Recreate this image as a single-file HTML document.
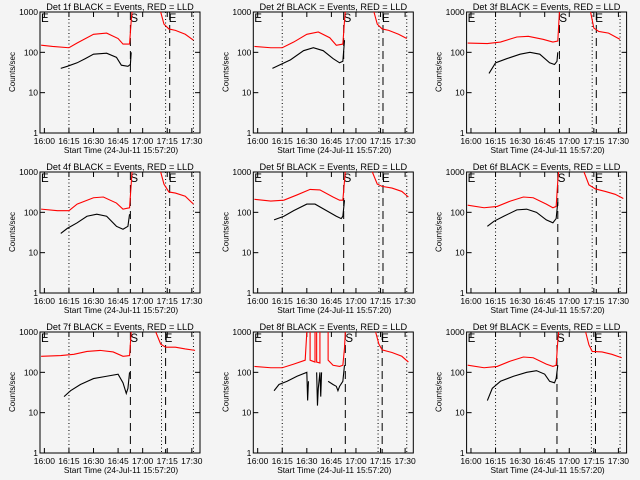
<!DOCTYPE html>
<html><head><meta charset="utf-8"><style>
body{margin:0;background:#f4f4f4}
svg{display:block;font-family:"Liberation Sans",sans-serif}
text{fill:#000}
</style></head><body>
<svg id="c" width="640" height="480" xmlns="http://www.w3.org/2000/svg">
<rect width="640" height="480" fill="#f4f4f4"/>
</svg>
<script>
const detNames=["1f","2f","3f","4f","5f","6f","7f","8f","9f"];
const xTickLabels=["16:00","16:15","16:30","16:45","17:00","17:15","17:30"];
const xTickMinutes=[0,15,30,45,60,75,90];
const yTickValues=[1,10,100,1000];
const yTickLabels=["1","10","100","1000"];
const redPre=[
[[-2,150],[5,140],[15,130],[20,170],[30,280],[38,300],[45,220],[48,160],[52,160],[53,600],[53.5,1000]],
[[-2,140],[8,130],[15,130],[22,180],[30,280],[37,320],[44,230],[48,150],[52,160],[53,600],[53.5,1000]],
[[-2,170],[10,165],[18,180],[28,240],[35,250],[44,210],[50,180],[53,190],[54,1000]],
[[-2,120],[8,110],[15,110],[20,160],[30,230],[36,240],[44,170],[48,120],[52,130],[53,500],[53.5,1000]],
[[-2,210],[8,190],[16,200],[24,270],[32,370],[38,360],[46,240],[50,200],[52,200],[53,600],[53.5,1000]],
[[-2,150],[8,130],[16,140],[24,190],[32,240],[38,230],[46,160],[50,130],[52,140],[53,600],[53.5,1000]],
[[-2,250],[10,260],[18,280],[26,330],[34,350],[42,320],[48,250],[52,260],[53,1000]],
[[-2,140],[8,130],[15,130],[22,160],[29,200],[30,1000]],
[[-2,150],[8,130],[16,140],[24,190],[32,240],[38,230],[46,160],[50,140],[52,150],[53,600],[53.5,1000]]];
const redPost=[
[[71,1000],[73,500],[76,380],[80,350],[86,280],[91,200]],
[[71,1000],[73,500],[76,380],[80,350],[86,280],[91,220]],
[[73,1000],[75,400],[78,330],[84,300],[91,210]],
[[71,1000],[73,500],[76,320],[80,300],[86,250],[91,160]],
[[70,1000],[73,500],[76,440],[82,400],[88,330],[92,240]],
[[69,1000],[72,480],[76,380],[82,330],[88,280],[93,220]],
[[68,1000],[71,500],[74,420],[80,420],[86,380],[92,350]],
[[72,1000],[74,500],[76,360],[82,310],[88,250],[92,180]],
[[70,1000],[72,480],[74,330],[80,320],[86,280],[92,230]]];
const blackPre=[
[[10,40],[14,45],[20,55],[25,70],[30,90],[38,95],[44,75],[47,48],[51,45],[52.5,50],[53,100]],
[[9,40],[14,50],[20,65],[28,110],[34,130],[40,110],[46,70],[50,55],[52,60],[53,200]],
[[11,30],[15,55],[22,70],[30,90],[36,100],[42,90],[48,55],[51,50],[52.5,60],[53,100]],
[[10,30],[14,40],[20,55],[26,80],[32,90],[38,80],[44,45],[48,38],[51,45],[52,90]],
[[10,65],[16,80],[22,110],[30,160],[35,160],[42,110],[48,80],[51,70],[52,80],[53,200]],
[[10,45],[14,60],[20,80],[28,115],[34,120],[40,100],[46,65],[50,55],[52,70],[53,180]],
[[12,25],[16,35],[22,50],[30,70],[38,80],[45,90],[48,55],[50,30],[51,40],[52,100]],
[[10,35],[13,50],[18,60],[24,80],[30,100],[30.5,20],[31,60]],
[[10,20],[13,40],[18,60],[26,80],[34,100],[40,110],[45,90],[48,60],[51,55],[52,70],[53,150]]];
const black8b=[[36,100],[36.5,15],[37,40],[38,100],[38.5,25],[39,100]];
const black8c=[[43,60],[46,50],[48,45],[49,35],[50,45],[52,60],[53,150]];
const sLine=[52.5,52.5,54,52.5,52.5,53,52.5,53.5,52.5];
const eLine=[76.5,76.5,76.5,76.5,76.5,76.5,74,76,76];

const svg=document.getElementById('c');
const NS='http://www.w3.org/2000/svg';
function mk(tag,attrs,parent){const e=document.createElementNS(NS,tag);for(const k in attrs)e.setAttribute(k,attrs[k]);parent.appendChild(e);return e;}
for(let p=0;p<9;p++){
  const ox=(p%3)*213.3, oy=Math.floor(p/3)*160;
  const L=ox+40,R=ox+200,T=oy+12,B=oy+133;
  const X=t=>L+(t+2.67)*(R-L)/97.67;
  const Y=v=>B-Math.log10(Math.min(Math.max(v,1),1000))*(B-T)/3;
  const g=mk('g',{},svg);
  
  
  const tt=mk('text',{x:ox+120,y:oy+10,'text-anchor':'middle',style:'font-size:9.2px'},g);tt.textContent='Det '+detNames[p]+' BLACK = Events, RED = LLD';
  
  const fr=mk('rect',{x:L,y:T,width:R-L,height:B-T,fill:'none',stroke:'#000','stroke-width':1},g);
  
  for(let i=0;i<xTickMinutes.length;i++){const x=X(xTickMinutes[i]);
    mk('line',{x1:x,x2:x,y1:B,y2:B-5,stroke:'#000'},g);mk('line',{x1:x,x2:x,y1:T,y2:T+5,stroke:'#000'},g);
    const t=mk('text',{x:x,y:B+11,'text-anchor':'middle',style:'font-size:8.5px'},g);t.textContent=xTickLabels[i];
    }
  for(let i=0;i<yTickValues.length;i++){const y=Y(yTickValues[i]);
    mk('line',{x1:L,x2:L+5,y1:y,y2:y,stroke:'#000'},g);mk('line',{x1:R,x2:R-5,y1:y,y2:y,stroke:'#000'},g);
    const t=mk('text',{x:L-2,y:y+3,'text-anchor':'end',style:'font-size:8.5px'},g);t.textContent=yTickLabels[i];
    }
  const xl=mk('text',{x:ox+121,y:oy+153,'text-anchor':'middle',style:'font-size:8.3px'},g);xl.textContent='Start Time (24-Jul-11 15:57:20)';
  
  const yl=mk('text',{x:0,y:0,'text-anchor':'middle',style:'font-size:8px',transform:`translate(${ox+15},${oy+72}) rotate(-90)`},g);yl.textContent='Counts/sec';
  
  [[15,'1,2.5'],[sLine[p],'8,5'],[eLine[p]-2.5,'1,2.5'],[eLine[p],'8,5'],[91,'1,2.5']].forEach(([t,d])=>{
    const l=mk('line',{x1:X(t),x2:X(t),y1:T,y2:B,stroke:'#000','stroke-dasharray':d},g);
    });
  [['E',L+1],['S',X(sLine[p])],['E',X(eLine[p])-1]].forEach(([s,x])=>{const t=mk('text',{x:x,y:T+10,style:'font-size:11.5px'},g);t.textContent=s;
    });
  const line=(pts,col,name)=>{const pl=mk('polyline',{points:pts.map(q=>X(q[0])+','+Y(q[1])).join(' '),fill:'none',stroke:col,'stroke-width':1.1},g);
    };
  line(redPre[p],'#f00','lld-series');line(redPost[p],'#f00','lld-series-post');line(blackPre[p],'#000','events-series');
  if(p===7){line(black8b,'#000','events-series-b');line(black8c,'#000','events-series-c');
    line([[32,1000],[32,200],[35,180],[35,1000]],'#f00','lld-series-b');line([[36,1000],[36,180],[38,170],[38,1000]],'#f00','lld-series-c');
    line([[43,1000],[43,200],[46,150],[50,140],[52,150],[53,400],[53.5,1000]],'#f00','lld-series-d');}
}
</script>
</body></html>
